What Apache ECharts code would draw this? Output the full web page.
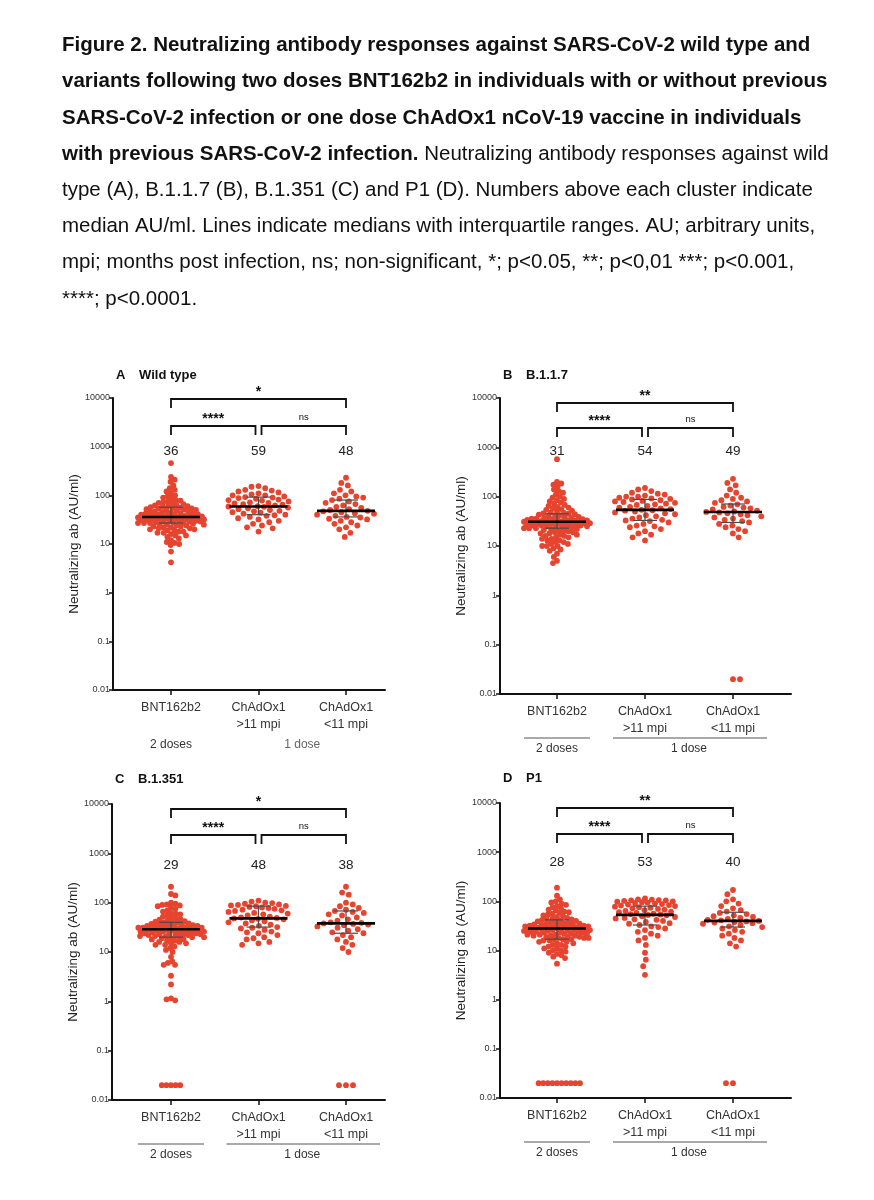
<!DOCTYPE html>
<html><head><meta charset="utf-8">
<script src="https://cdn.jsdelivr.net/npm/echarts@6/dist/echarts.min.js"></script>
<style>html,body{margin:0;padding:0;background:#fff}#c{width:874px;height:1200px}</style>
</head><body><div id="c"></div>
<script>
// ---------------- DATA ----------------
const categories = ['BNT162b2', 'ChAdOx1\n>11 mpi', 'ChAdOx1\n<11 mpi'];
const doseGroups = ['2 doses', '1 dose'];
const yTickLabels = ['0.01', '0.1', '1', '10', '100', '1000', '10000'];
const yAxisName = 'Neutralizing ab (AU/ml)';
const panelTitles = ['A   Wild type', 'B   B.1.1.7', 'C   B.1.351', 'D   P1'];

const sigA = ['*', '****', 'ns'];
const sigB = ['**', '****', 'ns'];
const sigC = ['*', '****', 'ns'];
const sigD = ['**', '****', 'ns'];

const medA = [36, 59, 48], q1A = [27, 40, 36], q3A = [57, 92, 80];
const medB = [31, 54, 49], q1B = [23, 33, 30], q3B = [45, 88, 71];
const medC = [29, 48, 38], q1C = [20, 32, 24], q3C = [40, 85, 68];
const medD = [28, 53, 40], q1D = [17, 33, 30], q3D = [42, 80, 60];

// A - wild type
const wtBNT = [460,240,210,190,160,140,130,120,110,100,95,90,85,80,78,75,72,70,68,66,64,62,60,60,58,57,56,55,54,53,52,51,50,49,48,47,46,45,45,44,43,42,42,41,40,40,39,39,38,38,37,37,37,36,36,36,36,35,35,35,34,34,34,33,33,33,32,32,32,31,31,30,30,30,29,29,29,28,28,28,27,27,27,26,26,25,25,24,24,23,23,22,22,21,21,20,20,19,19,18,18,17,17,16,15,15,14,13,12,11,10.5,10,9.5,7,4.2];
const wtOld = [155,150,140,130,125,120,115,110,105,100,100,95,92,90,88,85,82,80,78,75,72,70,68,66,64,62,60,59,58,56,54,52,50,48,47,45,44,42,40,39,38,36,34,32,30,28,26,24,22,21,18];
const wtRecent = [230,180,160,130,120,110,100,95,90,85,80,75,70,66,62,58,55,52,50,48,47,45,43,42,40,38,36,35,33,32,30,28,26,24,22,20,17,14];
// B - B.1.1.7
const b117BNT = [575,200,185,175,160,140,130,120,110,100,95,90,85,80,76,72,68,65,62,60,58,56,54,52,50,48,47,46,45,44,43,42,41,40,39,38,38,37,36,36,35,35,34,34,33,33,33,32,32,32,31,31,31,31,30,30,30,29,29,29,28,28,28,27,27,27,26,26,26,25,25,25,24,24,24,23,23,23,22,22,21,21,20,20,19,19,18,18,17,17,16,16,15,15,14,14,13,13,12,12,11,11,10,10,10,9,8.5,8,7,6,5,4.5];
const b117Old = [150,140,130,120,115,110,105,100,100,95,92,90,88,85,82,80,78,75,72,70,68,65,62,60,58,56,54,53,52,50,48,46,44,42,40,38,36,34,33,32,30,28,26,25,24,22,20,18,17,15,13];
const b117Recent = [230,190,170,140,120,105,95,90,85,80,75,70,66,62,60,58,55,52,50,49,48,46,44,42,40,38,36,34,32,30,28,26,24,22,20,18,15,0.02,0.02];
// C - B.1.351
const b1351BNT = [210,150,140,100,95,92,90,88,85,80,75,70,66,62,60,58,55,52,50,48,46,45,44,42,41,40,40,39,38,37,36,36,35,35,34,34,33,33,32,32,31,31,31,30,30,30,29,29,29,29,28,28,28,27,27,27,26,26,26,25,25,25,24,24,24,23,23,23,22,22,22,21,21,21,20,20,20,19,19,18,18,17,17,16,16,15,15,14,14,13,12,11,10,8,6.5,6,5.5,5.5,3.3,2.2,1.15,1.1,1.05,0.02,0.02,0.02,0.02,0.02];
const b1351Old = [110,105,100,98,95,92,90,88,86,85,82,80,78,75,72,70,68,65,62,60,58,55,52,50,49,48,47,46,44,42,40,38,36,34,32,31,30,28,26,25,24,22,20,19,18,16,15,14];
const b1351Recent = [210,160,145,100,92,85,78,72,68,65,62,58,55,50,46,43,40,39,38,37,36,35,33,31,29,27,25,24,22,20,18,16,14,12,10,0.02,0.02,0.02];
// D - P1
const p1BNT = [190,130,110,100,95,90,85,80,76,72,68,65,62,60,58,56,54,52,50,48,46,45,44,43,42,41,40,39,38,37,36,36,35,35,34,34,33,33,32,32,31,31,31,30,30,30,29,29,29,28,28,28,28,27,27,27,26,26,26,25,25,25,24,24,24,23,23,23,22,22,22,21,21,21,20,20,20,19,19,19,18,18,18,17,17,17,16,16,15,15,14,14,13,13,12,12,11,11,10,10,9.5,9,8.5,8,7.5,7,5.4,0.02,0.02,0.02,0.02,0.02,0.02,0.02,0.02,0.02,0.02];
const p1Old = [115,110,108,106,105,104,102,100,98,96,95,93,90,88,86,84,82,80,78,76,74,72,70,68,66,64,62,60,58,56,55,54,53,52,50,48,46,45,43,42,40,38,36,35,33,31,30,28,26,24,22,20,18,16,13,9,6.5,4.8,3.2];
const p1Recent = [170,140,110,100,90,80,72,66,62,58,55,52,50,48,46,44,42,41,40,39,38,37,36,35,33,31,30,28,26,24,22,20,18,16,14,12,0.02,0.02];

const captionLines = [
  [{b:'Figure 2. Neutralizing antibody responses against SARS-CoV-2 wild type and'}],
  [{b:'variants following two doses BNT162b2 in individuals with or without previous'}],
  [{b:'SARS-CoV-2 infection or one dose ChAdOx1 nCoV-19 vaccine in individuals'}],
  [{b:'with previous SARS-CoV-2 infection.'}, {n:' Neutralizing antibody responses against wild'}],
  [{n:'type (A), B.1.1.7 (B), B.1.351 (C) and P1 (D). Numbers above each cluster indicate'}],
  [{n:'median AU/ml. Lines indicate medians with interquartile ranges. AU; arbitrary units,'}],
  [{n:'mpi; months post infection, ns; non-significant, *; p<0.05, **; p<0,01 ***; p<0.001,'}],
  [{n:'****; p<0.0001.'}]
];

// ---------------- PANELS / LAYOUT ----------------
const panels = [
  {title: panelTitles[0], sig: sigA, groups: [wtBNT, wtOld, wtRecent], med: medA, q1: q1A, q3: q3A},
  {title: panelTitles[1], sig: sigB, groups: [b117BNT, b117Old, b117Recent], med: medB, q1: q1B, q3: q3B},
  {title: panelTitles[2], sig: sigC, groups: [b1351BNT, b1351Old, b1351Recent], med: medC, q1: q1C, q3: q3C},
  {title: panelTitles[3], sig: sigD, groups: [p1BNT, p1Old, p1Recent], med: medD, q1: q1D, q3: q3D}
];
const layout = [
  {left:113, top:398, width:272, height:292, first:58, step:87.5, brTop:1, brLow:28, medOff:53, underline:false, titleDy:-21},
  {left:500, top:398, width:291, height:296, first:57, step:88, brTop:5, brLow:30, medOff:53, underline:true, titleDy:-21},
  {left:112, top:804, width:273, height:296, first:59, step:87.5, brTop:5, brLow:31, medOff:61, underline:true, titleDy:-23},
  {left:500, top:803, width:291, height:295, first:57, step:88, brTop:5, brLow:31, medOff:59, underline:true, titleDy:-23}
];
const FONT = 'Liberation Sans, Arial, Helvetica, sans-serif';
const RED = '#e6442f';

const chart = echarts.init(document.getElementById('c'), null, {renderer: 'canvas'});
const option = {animation:false, backgroundColor:'#fff', grid:[], xAxis:[], yAxis:[], series:[], graphic:[]};

layout.forEach((L, g) => {
  const xmin = 1 - L.first / L.step, xmax = xmin + L.width / L.step;
  option.grid.push({left:L.left, top:L.top, width:L.width, height:L.height});
  option.xAxis.push({
    type:'value', gridIndex:g, min:xmin, max:xmax,
    axisLine:{show:true, onZero:false, lineStyle:{color:'#111', width:2}},
    axisTick:{show:true, customValues:[1,2,3], length:5, lineStyle:{color:'#111', width:1.5}},
    axisLabel:{show:true, customValues:[1,2,3], formatter: v => categories[Math.round(v) - 1],
      fontFamily:FONT, fontSize:12.5, color:'#333', lineHeight:17, margin:9},
    splitLine:{show:false}
  });
  option.yAxis.push({
    type:'log', logBase:10, gridIndex:g, min:0.01, max:10000, interval:1,
    axisLine:{show:true, onZero:false, lineStyle:{color:'#111', width:2}},
    axisTick:{show:true, length:4, lineStyle:{color:'#111', width:1.5}},
    axisLabel:{fontFamily:FONT, fontSize:9, color:'#333', margin:3,
      formatter: v => yTickLabels[Math.round(Math.log10(v)) + 2]},
    splitLine:{show:false},
    name:yAxisName, nameLocation:'middle', nameGap:27,
    nameTextStyle:{fontFamily:FONT, fontSize:13.5, color:'#222'}
  });
});
chart.setOption(option);

// ------------- beeswarm layout (deterministic, pixel space) -------------
function swarm(ys, D, maxHalf) {
  const order = ys.map((y, i) => i).sort((a, b) => ys[a] - ys[b]);
  const placed = [], dx = new Array(ys.length);
  order.forEach((i, n) => {
    const y = ys[i];
    const near = placed.filter(p => Math.abs(p.y - y) < D);
    const cands = [0];
    near.forEach(p => { const h = Math.sqrt(D * D - (p.y - y) ** 2); cands.push(p.x + h, p.x - h); });
    cands.sort((a, b) => Math.abs(a) - Math.abs(b) || (n % 2 ? a - b : b - a));
    let best = null;
    for (const c of cands) {
      if (Math.abs(c) > maxHalf) continue;
      if (near.every(p => (p.x - c) ** 2 + (p.y - y) ** 2 >= D * D - 0.01)) { best = c; break; }
    }
    if (best === null) {
      let bd = -1; best = 0;
      for (let c = -maxHalf; c <= maxHalf; c += 0.5) {
        let md = Infinity;
        near.forEach(p => { const d = (p.x - c) ** 2 + (p.y - y) ** 2; if (d < md) md = d; });
        if (md > bd + 0.01) { bd = md; best = c; }
      }
    }
    placed.push({x: best, y}); dx[i] = best;
  });
  return dx;
}

const series = [];
const graphic = [];
panels.forEach((P, g) => {
  const L = layout[g];
  P.groups.forEach((vals, k) => {
    const ys = vals.map(v => chart.convertToPixel({gridIndex: g}, [k + 1, v])[1]);
    const dx = k === 0 ? swarm(ys, 4.6, 33) : swarm(ys, 7, 30);
    series.push({
      type:'scatter', xAxisIndex:g, yAxisIndex:g, symbol:'circle', symbolSize:5.8, silent:true,
      itemStyle:{color:RED, opacity:1},
      data: vals.map((v, i) => [k + 1 + dx[i] / L.step, v]), z:2
    });
  });
  // medians + IQR
  series.push({
    type:'custom', xAxisIndex:g, yAxisIndex:g, silent:true, z:5,
    data: P.med.map((m, k) => [k + 1, m, P.q1[k], P.q3[k]]),
    renderItem: (params, api) => {
      const x = api.value(0);
      const pm = api.coord([x, api.value(1)]), pl = api.coord([x, api.value(2)]), ph = api.coord([x, api.value(3)]);
      const thin = {stroke:'#4a4a4a', lineWidth:1.2};
      return {type:'group', children:[
        {type:'line', shape:{x1:pm[0], y1:pl[1], x2:pm[0], y2:ph[1]}, style:thin},
        {type:'line', shape:{x1:pm[0]-12, y1:pl[1], x2:pm[0]+12, y2:pl[1]}, style:thin},
        {type:'line', shape:{x1:pm[0]-12, y1:ph[1], x2:pm[0]+12, y2:ph[1]}, style:thin},
        {type:'line', shape:{x1:pm[0]-29, y1:pm[1], x2:pm[0]+29, y2:pm[1]}, style:{stroke:'#000', lineWidth:2.6}},
        {type:'text', x:pm[0], y:params.coordSys.y + L.medOff,
          style:{text:String(api.value(1)), align:'center', verticalAlign:'middle', font:'13.5px ' + FONT, fill:'#222'}}
      ]};
    }
  });
  // significance brackets
  const brackets = [[1, 3, 0], [1, 2, 1], [2, 3, 1]];
  series.push({
    type:'custom', xAxisIndex:g, yAxisIndex:g, silent:true, z:5,
    data: brackets.map((b, i) => [b[0], b[1], b[2], i]),
    renderItem: (params, api) => {
      const a = api.value(0), b = api.value(1), lvl = api.value(2), i = api.value(3);
      let x1 = api.coord([a, 1])[0], x2 = api.coord([b, 1])[0];
      if (lvl === 1) { if (a === 1) x2 -= 3; else x1 += 3; }
      const y = params.coordSys.y + (lvl === 0 ? L.brTop : L.brLow);
      const st = {stroke:'#111', lineWidth:1.8, fill:null};
      const lab = P.sig[i];
      const isNs = lab === 'ns';
      return {type:'group', children:[
        {type:'polyline', shape:{points:[[x1, y + 9], [x1, y], [x2, y], [x2, y + 9]]}, style:st},
        {type:'text', x:(x1 + x2) / 2, y: y - (isNs ? 9 : 7),
          style:{text:lab, align:'center', verticalAlign:'middle',
            font:(isNs ? '9.5px ' : 'bold 14px ') + FONT, fill:'#111'}}
      ]};
    }
  });
  // panel titles
  const parts = P.title.split(/\s{2,}/);
  graphic.push({type:'text', left:L.left + 3, top:L.top + L.titleDy - 8,
    style:{text:parts[0], font:'bold 13px ' + FONT, fill:'#111'}});
  graphic.push({type:'text', left:L.left + 26, top:L.top + L.titleDy - 8,
    style:{text:parts[1], font:'bold 13px ' + FONT, fill:'#111'}});
  // dose groups
  const c1 = chart.convertToPixel({gridIndex:g}, [1, 1])[0];
  const c2 = chart.convertToPixel({gridIndex:g}, [2, 1])[0];
  const c3 = chart.convertToPixel({gridIndex:g}, [3, 1])[0];
  const axisY = L.top + L.height;
  if (L.underline) {
    graphic.push({type:'line', shape:{x1:c1 - 33, y1:axisY + 44, x2:c1 + 33, y2:axisY + 44}, style:{stroke:'#555', lineWidth:1}});
    graphic.push({type:'line', shape:{x1:c2 - 32, y1:axisY + 44, x2:c3 + 34, y2:axisY + 44}, style:{stroke:'#555', lineWidth:1}});
  }
  graphic.push({type:'text', x:c1, y:axisY + 55, style:{text:doseGroups[0], align:'center', verticalAlign:'middle', font:'12px ' + FONT, fill:'#333'}});
  graphic.push({type:'text', x:(c2 + c3) / 2, y:axisY + 55, style:{text:doseGroups[1], align:'center', verticalAlign:'middle', font:'12px ' + FONT, fill: L.underline ? '#333' : '#666'}});
});

// caption
captionLines.forEach((line, i) => {
  const text = line.map(seg => seg.b ? '{b|' + seg.b + '}' : '{n|' + seg.n + '}').join('');
  graphic.push({type:'text', left:62, top:47 + i * 36.2 - 12,
    style:{text, rich:{
      b:{font:'bold 20.5px ' + FONT, fill:'#111'},
      n:{font:'20.5px ' + FONT, fill:'#111'}}}});
});

chart.setOption({series, graphic});
</script>
</body></html>
